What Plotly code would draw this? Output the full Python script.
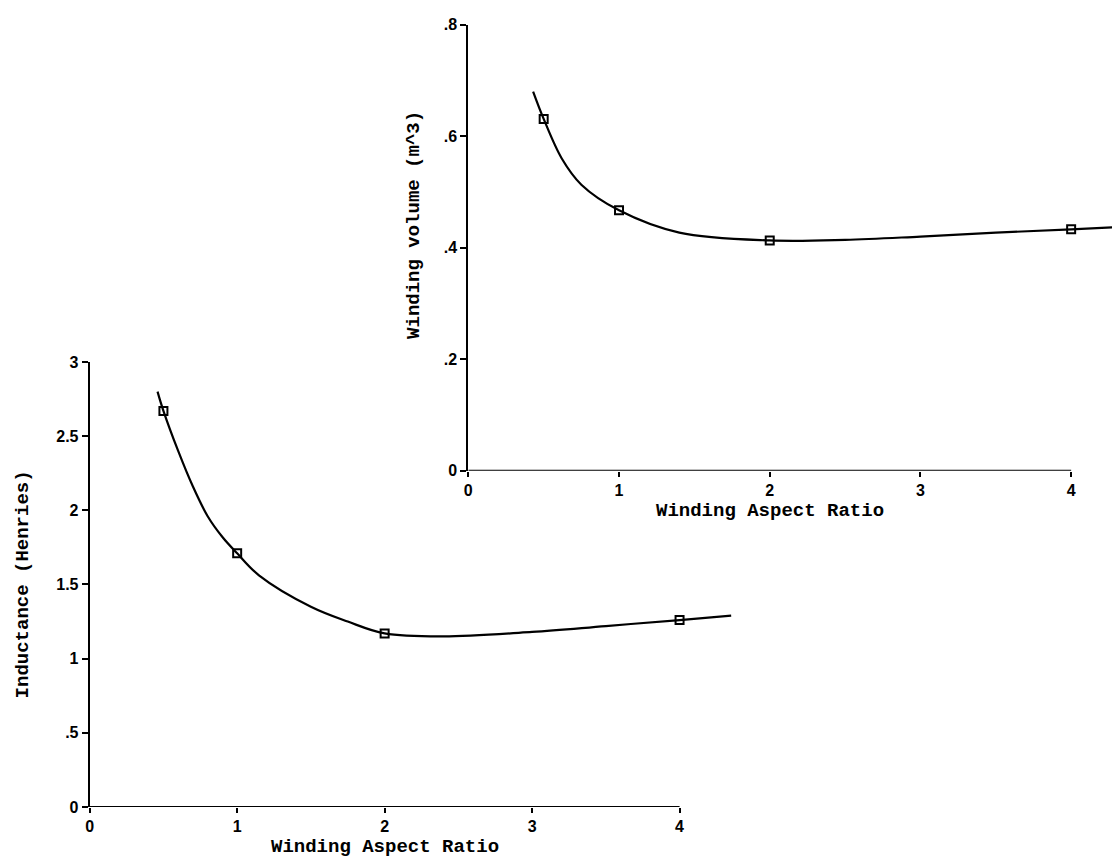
import plotly.graph_objects as go

# Measured design points
aspect_ratio = [0.5, 1, 2, 4]
inductance = [2.67, 1.71, 1.17, 1.26]
winding_volume = [0.631, 0.467, 0.413, 0.433]

# Smooth fitted curves (sampled)
ind_curve_x = [0.46, 0.5, 0.6, 0.7, 0.8, 0.9, 1.0, 1.15, 1.5, 1.75, 2.0, 2.4, 3.0, 3.5, 4.0, 4.35]
ind_curve_y = [2.80, 2.67, 2.40, 2.16, 1.96, 1.82, 1.71, 1.56, 1.35, 1.25, 1.17, 1.15, 1.18, 1.22, 1.26, 1.29]
vol_curve_x = [0.43, 0.5, 0.62, 0.75, 1.0, 1.4, 2.0, 2.5, 3.0, 3.5, 4.0, 4.3]
vol_curve_y = [0.680, 0.631, 0.560, 0.513, 0.467, 0.427, 0.413, 0.414, 0.420, 0.427, 0.433, 0.437]

x_ticks = [0, 1, 2, 3, 4]
x_ticktext = ["0", "1", "2", "3", "4"]
ind_ticks = [0, 0.5, 1, 1.5, 2, 2.5, 3]
ind_ticktext = ["0", ".5", "1", "1.5", "2", "2.5", "3"]
vol_ticks = [0, 0.2, 0.4, 0.6, 0.8]
vol_ticktext = ["0", ".2", ".4", ".6", ".8"]

W, H = 1112, 868

def px_x(p):
    return p / W

def px_y(p):
    return (H - p) / H

# pixel geometry of the two panels
L_x0, L_unit = 86, 148.0
L_xmax = 4.4
L_y0, L_y3 = 815, 361
R_x0, R_unit = 466, 151.25
R_xmax = (W - R_x0) / R_unit
R_y0, R_y8 = 472, 17

tick_font = dict(family="Liberation Sans, Arial", size=16, color="black", weight="bold")
title_font = dict(family="Liberation Mono, Courier New", size=19, color="black", weight="bold")

fig = go.Figure()

fig.add_trace(go.Scatter(x=ind_curve_x, y=ind_curve_y, mode="lines", line_shape="spline",
                         line=dict(color="black", width=2.2), xaxis="x", yaxis="y", showlegend=False))
fig.add_trace(go.Scatter(x=aspect_ratio, y=inductance, mode="markers",
                         marker=dict(symbol="square-open", size=8, color="black", line=dict(width=2)),
                         xaxis="x", yaxis="y", showlegend=False))
fig.add_trace(go.Scatter(x=vol_curve_x, y=vol_curve_y, mode="lines", line_shape="spline",
                         line=dict(color="black", width=2.2), xaxis="x2", yaxis="y2", showlegend=False))
fig.add_trace(go.Scatter(x=aspect_ratio, y=winding_volume, mode="markers",
                         marker=dict(symbol="square-open", size=8, color="black", line=dict(width=2)),
                         xaxis="x2", yaxis="y2", showlegend=False))

common_x = dict(showgrid=False, zeroline=False, showline=False, ticks="outside", ticklen=5,
                tickwidth=2, tickcolor="black", tickvals=x_ticks, ticktext=x_ticktext,
                tickfont=tick_font, fixedrange=True)
common_y = dict(showgrid=False, zeroline=False, showline=True, linecolor="black", linewidth=2,
                ticks="outside", ticklen=6, tickwidth=2, tickcolor="black",
                tickfont=tick_font, fixedrange=True)

fig.update_layout(
    width=W, height=H,
    margin=dict(l=0, r=0, t=0, b=0),
    paper_bgcolor="white", plot_bgcolor="rgba(0,0,0,0)",
    xaxis=dict(common_x, range=[0, L_xmax], domain=[px_x(L_x0), px_x(L_x0 + L_xmax * L_unit)], anchor="y"),
    yaxis=dict(common_y, range=[0, 3], tickvals=ind_ticks, ticktext=ind_ticktext,
               domain=[px_y(L_y0), px_y(L_y3)], anchor="x"),
    xaxis2=dict(common_x, range=[0, R_xmax], domain=[px_x(R_x0), 1.0], anchor="y2"),
    yaxis2=dict(common_y, range=[0, 0.8], tickvals=vol_ticks, ticktext=vol_ticktext,
                domain=[px_y(R_y0), px_y(R_y8)], anchor="x2"),
    showlegend=False,
)

# x-axis baselines end at the last tick
fig.add_shape(type="line", xref="x", yref="y", x0=0, x1=4, y0=0, y1=0,
              line=dict(color="black", width=2))
fig.add_shape(type="line", xref="x2", yref="y2", x0=0, x1=4, y0=0, y1=0,
              line=dict(color="black", width=2))

# axis titles
fig.add_annotation(text="Winding Aspect Ratio", xref="x", yref="paper", x=2, y=px_y(856),
                   showarrow=False, font=title_font, xanchor="center", yanchor="middle")
fig.add_annotation(text="Winding Aspect Ratio", xref="x2", yref="paper", x=2, y=px_y(513),
                   showarrow=False, font=title_font, xanchor="center", yanchor="middle")
fig.add_annotation(text="Inductance (Henries)", xref="paper", yref="y", x=px_x(20), y=1.5,
                   showarrow=False, font=title_font, textangle=-90, xanchor="center", yanchor="middle")
fig.add_annotation(text="Winding volume (m^3)", xref="paper", yref="y2", x=px_x(412), y=0.44,
                   showarrow=False, font=title_font, textangle=-90, xanchor="center", yanchor="middle")

fig.write_html("out.html")
